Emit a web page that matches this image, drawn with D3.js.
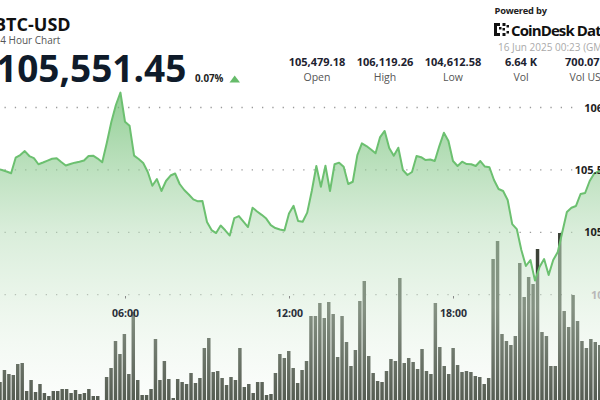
<!DOCTYPE html>
<html><head><meta charset="utf-8">
<script src="https://cdn.jsdelivr.net/npm/d3@7"></script>
<style>
html,body{margin:0;padding:0;background:#fff;overflow:hidden;}
svg{display:block;font-family:"Open Sans",sans-serif;}
</style></head><body>
<svg id="c" width="600" height="400"></svg>
<script>
// ---------- data ----------
const symbol = "BTC-USD";
const subtitle = "24 Hour Chart";
const lastPrice = "105,551.45";
const changePct = "0.07%";
const statValues = ["105,479.18", "106,119.26", "104,612.58", "6.64 K", "700.07 M"];
const statLabels = ["Open", "High", "Low", "Vol", "Vol USD"];
const poweredBy = "Powered by";
const brand = "CoinDesk Data";
const timestamp = "16 Jun 2025 00:23 (GMT)";
const priceTicks = [104500, 105000, 105500, 106000];
const priceTickLabels = ["104.5", "105", "105.5", "106"];
const timeTickLabels = ["06:00", "12:00", "18:00"];
const priceStart = [2025, 5, 15, 0, 30];   // 15 Jun 2025 00:30, 10-minute points
const priceStepMin = 10;
const prices = [
 105479,105495,105488,105502,105497,105507,105499,105487,105473,105598,
 105619,105651,105611,105595,105545,105559,105574,105589,105594,105563,
 105535,105547,105558,105566,105575,105611,105614,105591,105561,105715,
 105884,106020,106119,105886,105854,105614,105587,105555,105483,105373,
 105427,105331,105411,105455,105471,105387,105339,105303,105264,105248,
 105251,105082,105018,104994,105054,105016,104974,105114,105130,105086,
 105042,105197,105167,105140,105110,105058,105034,105022,105014,105150,
 105212,105090,105085,105158,105331,105531,105365,105533,105331,105545,
 105558,105525,105387,105405,105619,105713,105691,105663,105633,105763,
 105812,105675,105614,105678,105499,105459,105483,105611,105602,105579,
 105583,105571,105691,105798,105731,105571,105531,105566,105547,105545,
 105531,105571,105527,105521,105419,105347,105331,105259,105066,105026,
 104858,104730,104778,104613,104722,104786,104658,104778,104842,105002,
 105163,105197,105211,105307,105315,105411,105471,105491,105503,105515,
 105523,105531,105539,105551
];
const volumes = [
 18,30,26,25,36,37,9,20,8,16,
 7,4,9,9,11,11,7,10,6,7,
 11,4,4,0,23,32,59,46,66,26,
 88,20,5,5,11,61,20,39,21,2,
 21,18,16,27,17,22,52,62,28,29,
 22,15,23,20,52,13,16,7,18,18,
 5,6,27,46,42,49,32,17,30,39,
 84,84,97,82,98,86,43,84,58,34,
 50,99,119,44,27,19,18,29,41,39,
 122,37,42,38,31,51,29,26,97,53,
 34,26,52,35,28,29,28,24,23,16,
 22,141,159,66,59,55,64,137,103,123,
 116,151,68,64,34,34,167,89,73,105,
 79,59,52,61,58,55
];

// ---------- setup ----------
const svg = d3.select("#c");
const t0 = new Date(...priceStart);
const series = prices.map((p, i) => ({t: new Date(t0.getTime() + i * priceStepMin * 60000), p}));

const x = d3.scaleTime()
  .domain([new Date(2025, 5, 15, 6, 0), new Date(2025, 5, 15, 18, 0)])
  .range([125, 453]);
const y = d3.scaleLinear().domain([104500, 106000]).range([294.7, 107.5]);
const xb = d3.scaleBand().domain(d3.range(volumes.length))
  .range([-2.23, 601.95]).paddingInner(0.22).paddingOuter(0.11);
const yv = d3.scaleLinear().domain([0, 170]).range([400, 230]);

const defs = svg.append("defs");
const g = defs.append("linearGradient").attr("id", "fade")
  .attr("gradientUnits", "userSpaceOnUse")
  .attr("x1", 0).attr("y1", 90).attr("x2", 0).attr("y2", 400);
[[0, "rgb(102,187,106)", 0.72], [0.45, "rgb(185,222,187)", 0.55],
 [0.7, "rgb(215,236,215)", 0.47], [1, "rgb(230,242,230)", 0.15]]
  .forEach(s => g.append("stop").attr("offset", s[0]).attr("stop-color", s[1]).attr("stop-opacity", s[2]));

// grid
svg.append("g").selectAll("line").data(priceTicks).join("line")
  .attr("x1", 4.5).attr("x2", 575)
  .attr("y1", d => y(d)).attr("y2", d => y(d))
  .attr("stroke", "#9a9a9a").attr("stroke-width", 1.3)
  .attr("stroke-dasharray", "1.3 9");

// volume bars
svg.append("g").selectAll("rect").data(volumes).join("rect")
  .attr("x", (d, i) => xb(i)).attr("width", xb.bandwidth())
  .attr("y", d => yv(d)).attr("height", d => 400 - yv(d))
  .attr("fill", "#3c4238");

// area + line
svg.append("path").datum(series)
  .attr("d", d3.area().x(d => x(d.t)).y0(400).y1(d => y(d.p)))
  .attr("fill", "url(#fade)");
svg.append("path").datum(series)
  .attr("d", d3.line().x(d => x(d.t)).y(d => y(d.p)))
  .attr("fill", "none").attr("stroke", "#6cc070").attr("stroke-width", 2)
  .attr("stroke-linejoin", "round");

// right price axis
const ya = svg.append("g").attr("transform", "translate(603,0)")
  .call(d3.axisRight(y).tickValues(priceTicks)
    .tickFormat(d => priceTickLabels[priceTicks.indexOf(d)]).tickSize(0).tickPadding(0));
ya.select(".domain").remove();
ya.selectAll("text")
  .attr("text-anchor", (d, i) => i === 0 ? "start" : "end")
  .attr("x", (d, i) => i === 0 ? -12 : 0)
  .style("font-family", "Open Sans").style("font-weight", 700).style("font-size", "11px")
  .attr("fill", (d, i) => i === 0 ? "#b8b8b8" : "#222");

// time axis
const parseT = d3.timeParse("%Y-%m-%d %H:%M");
const tickDates = timeTickLabels.map(s => parseT("2025-06-15 " + s));
const xa = svg.append("g").attr("transform", "translate(0,296)")
  .call(d3.axisBottom(x).tickValues(tickDates).tickFormat(d3.timeFormat("%H:%M"))
    .tickSize(2.5).tickPadding(11));
xa.select(".domain").remove();
xa.selectAll("line").attr("stroke", "#888");
xa.selectAll("text").style("font-family", "Open Sans").style("font-weight", 700)
  .style("font-size", "10.5px").attr("fill", "#2a2f3a");

// ---------- header ----------
const hdr = svg.append("g");
hdr.append("text").attr("x", -6).attr("y", 31).text(symbol)
  .style("font-weight", 700).style("font-size", "18px").attr("fill", "#111");
hdr.append("text").attr("x", -5.5).attr("y", 44).text(subtitle)
  .style("font-size", "10px").attr("fill", "#555");
hdr.append("text").attr("x", -4).attr("y", 81.5).text(lastPrice)
  .style("font-weight", 700).style("font-size", "37px").attr("fill", "#0f1b2a");
hdr.append("text").attr("x", 195).attr("y", 81.5).text(changePct)
  .style("font-weight", 700).style("font-size", "9.8px").attr("fill", "#222");
hdr.append("path").attr("d", "M229.5,82.5 L234.7,75.5 L240,82.5 Z").attr("fill", "#66bb6a");

const sx = d3.scalePoint().domain(statLabels).range([317, 589]);
statValues.forEach((v, i) => {
  const cx = sx(statLabels[i]);
  hdr.append("text").attr("x", cx).attr("y", 66).attr("text-anchor", "middle").text(v)
    .style("font-weight", 700).style("font-size", "11px").attr("fill", "#1d2230");
  hdr.append("text").attr("x", cx).attr("y", 80.5).attr("text-anchor", "middle").text(statLabels[i])
    .style("font-size", "10.5px").attr("fill", "#555");
});

hdr.append("text").attr("x", 494.5).attr("y", 14).text(poweredBy)
  .style("font-weight", 700).style("font-size", "9.3px").attr("fill", "#222").attr("letter-spacing", "-0.2");
// logo icon
const lg = hdr.append("g").attr("fill", "#111");
[[494,23,3,13],[494,23,6,3],[494,33,6,3],[499,27,2.5,2.5],[502.5,23,3,3],[502.5,28,2.5,2.5],[502.5,33,3,3],[506.5,25,2.5,2.5],[506.5,31,2.5,2.5]]
  .forEach(r => lg.append("rect").attr("x", r[0]).attr("y", r[1]).attr("width", r[2]).attr("height", r[3]));
hdr.append("text").attr("x", 511).attr("y", 35.5).text(brand)
  .style("font-weight", 700).style("font-size", "15px").attr("fill", "#111").attr("letter-spacing", "-0.9");
hdr.append("text").attr("x", 498).attr("y", 51).text(timestamp)
  .style("font-size", "10px").attr("fill", "#aaa");
</script>
</body></html>
